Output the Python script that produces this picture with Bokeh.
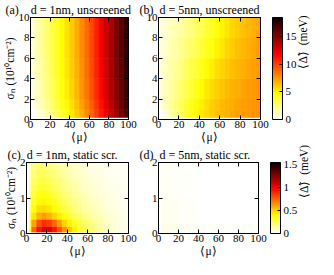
import numpy as np
from math import pi
from bokeh.plotting import figure
from bokeh.models import (Range1d, LinearAxis, FixedTicker, ColorBar,
                          LinearColorMapper, ColumnDataSource)
from bokeh.layouts import column, row
from bokeh.transform import linear_cmap
from bokeh.embed import file_html
from bokeh.resources import INLINE

# ---------------- data ----------------
MU_TICKS = [0, 20, 40, 60, 80, 100]
SIGMA_TICKS_UNSCR = [0, 2, 4, 6, 8, 10]
SIGMA_TICKS_SCR = [0, 1, 2]
CB_TICKS_UNSCR = [0, 5, 10, 15]
CB_TICKS_SCR = [0, 0.5, 1, 1.5]
CB_LABELS_SCR = {0: "0", 0.5: "0.5", 1: "1", 1.5: "1.5"}
VMAX_UNSCR = 18.5
VMAX_SCR = 1.55

MU_EDGES_UNSCR = [0, 5, 10, 15, 20, 25, 30, 35, 40, 45, 50,
                  55, 60, 65, 70, 75, 80, 85, 90, 95, 100]
SIGMA_EDGES_UNSCR = [0, 0.2, 1, 2, 4, 6, 8, 10]

# rows from bottom (sigma small) to top
GAP_A = [
    [0, 0, 0, 0, 0, 0, 0, 0, 0, 0, 0, 0, 0, 0, 0, 0, 0, 0, 0, 0],
    [0.1, 0.4, 1.0, 1.7, 2.4, 3.1, 3.8, 4.5, 5.3, 6.1, 7.0, 7.9, 8.9, 10.0, 11.1, 12.2, 13.3, 14.4, 15.5, 16.5],
    [0.4, 0.9, 1.5, 2.1, 2.8, 3.5, 4.2, 4.9, 5.6, 6.4, 7.3, 8.2, 9.2, 10.3, 11.4, 12.5, 13.6, 14.7, 15.8, 16.8],
    [0.6, 1.2, 1.8, 2.4, 3.1, 3.8, 4.5, 5.2, 5.9, 6.7, 7.6, 8.5, 9.5, 10.6, 11.7, 12.8, 13.9, 15.0, 16.0, 17.0],
    [0.8, 1.4, 2.0, 2.6, 3.3, 4.0, 4.7, 5.4, 6.1, 6.9, 7.8, 8.7, 9.7, 10.8, 11.9, 13.0, 14.1, 15.2, 16.2, 17.2],
    [0.9, 1.5, 2.1, 2.7, 3.4, 4.1, 4.8, 5.5, 6.2, 7.0, 7.9, 8.8, 9.8, 10.9, 12.0, 13.1, 14.2, 15.3, 16.3, 17.3],
    [0.9, 1.5, 2.1, 2.7, 3.4, 4.1, 4.8, 5.5, 6.2, 7.0, 7.9, 8.8, 9.8, 10.9, 12.0, 13.1, 14.2, 15.3, 16.3, 17.4],
]

GAP_B = [
    [0, 0, 0, 0, 0, 0, 0, 0, 0, 0, 0, 0, 0, 0, 0, 0, 0, 0, 0, 0],
    [0.2, 0.7, 1.5, 2.3, 3.0, 3.7, 4.3, 4.9, 5.3, 5.7, 6.1, 6.4, 6.7, 6.9, 7.1, 7.3, 7.4, 7.5, 7.6, 7.7],
    [0.6, 1.2, 1.9, 2.5, 3.1, 3.7, 4.3, 4.8, 5.2, 5.6, 6.0, 6.3, 6.6, 6.8, 7.0, 7.2, 7.4, 7.5, 7.6, 7.7],
    [0.8, 1.3, 1.8, 2.3, 2.8, 3.3, 3.8, 4.3, 4.8, 5.3, 5.7, 6.0, 6.3, 6.6, 6.8, 7.0, 7.2, 7.4, 7.5, 7.6],
    [0.8, 1.2, 1.6, 2.0, 2.4, 2.9, 3.4, 3.8, 4.3, 4.8, 5.2, 5.6, 5.9, 6.2, 6.5, 6.7, 6.9, 7.1, 7.3, 7.4],
    [0.7, 1.0, 1.4, 1.7, 2.1, 2.5, 2.9, 3.3, 3.7, 4.2, 4.6, 5.0, 5.4, 5.8, 6.1, 6.4, 6.7, 6.9, 7.1, 7.3],
    [0.6, 0.9, 1.2, 1.5, 1.8, 2.1, 2.5, 2.9, 3.3, 3.7, 4.1, 4.6, 5.0, 5.4, 5.8, 6.1, 6.4, 6.7, 6.9, 7.1],
]

MU_EDGES_C = [0, 3, 5, 10, 15, 20, 25, 30, 35, 40, 45, 50,
              55, 60, 65, 70, 75, 80, 85, 90, 95, 100]
SIGMA_EDGES_C = [0, 0.04, 0.2, 0.4, 0.6, 0.8, 1.0, 1.2, 1.4, 1.6, 1.8, 2.0]
GAP_C = [
    [0, 0, 0, 0, 0, 0, 0, 0, 0, 0, 0, 0, 0, 0, 0, 0, 0, 0, 0, 0, 0],
    [0, 0.35, 0.75, 0.95, 1.05, 1.05, 0.95, 0.8, 0.65, 0.52, 0.42, 0.34, 0.28, 0.23, 0.19, 0.15, 0.12, 0.09, 0.07, 0.05, 0.04],
    [0, 0.3, 0.6, 0.8, 0.88, 0.85, 0.75, 0.62, 0.5, 0.42, 0.35, 0.29, 0.24, 0.2, 0.16, 0.13, 0.1, 0.08, 0.06, 0.05, 0.04],
    [0, 0.25, 0.45, 0.58, 0.62, 0.58, 0.5, 0.43, 0.37, 0.32, 0.27, 0.23, 0.19, 0.16, 0.13, 0.11, 0.09, 0.07, 0.05, 0.04, 0.03],
    [0, 0.22, 0.38, 0.47, 0.48, 0.45, 0.4, 0.35, 0.3, 0.26, 0.22, 0.18, 0.15, 0.13, 0.11, 0.09, 0.07, 0.06, 0.05, 0.04, 0.03],
    [0, 0.2, 0.33, 0.4, 0.41, 0.39, 0.35, 0.3, 0.26, 0.22, 0.19, 0.16, 0.13, 0.11, 0.09, 0.08, 0.06, 0.05, 0.04, 0.03, 0.03],
    [0, 0.18, 0.3, 0.36, 0.37, 0.34, 0.3, 0.26, 0.22, 0.19, 0.16, 0.13, 0.11, 0.09, 0.08, 0.06, 0.05, 0.04, 0.04, 0.03, 0.02],
    [0, 0.16, 0.27, 0.32, 0.33, 0.3, 0.26, 0.22, 0.19, 0.16, 0.14, 0.11, 0.09, 0.08, 0.07, 0.05, 0.04, 0.04, 0.03, 0.03, 0.02],
    [0, 0.15, 0.24, 0.29, 0.29, 0.26, 0.23, 0.2, 0.17, 0.14, 0.12, 0.1, 0.08, 0.07, 0.06, 0.05, 0.04, 0.03, 0.03, 0.02, 0.02],
    [0, 0.13, 0.21, 0.26, 0.26, 0.23, 0.2, 0.17, 0.15, 0.12, 0.1, 0.09, 0.07, 0.06, 0.05, 0.04, 0.03, 0.03, 0.02, 0.02, 0.02],
    [0, 0.12, 0.19, 0.23, 0.23, 0.21, 0.18, 0.15, 0.13, 0.11, 0.09, 0.08, 0.06, 0.05, 0.04, 0.04, 0.03, 0.03, 0.02, 0.02, 0.01],
]

MU_EDGES_D = [0, 3, 10, 20, 40, 100]
SIGMA_EDGES_D = [0, 0.04, 0.3, 1, 2]
GAP_D = [
    [0, 0, 0, 0, 0],
    [0, 0.05, 0.04, 0.02, 0.01],
    [0, 0.03, 0.025, 0.015, 0.005],
    [0, 0.02, 0.015, 0.01, 0.003],
]

PANEL_TITLES = [
    "(a)\u2002\u2002d = 1nm, unscreened",
    "(b)\u2002d = 5nm, unscreened",
    "(c)\u2002d = 1nm, static scr.",
    "(d)\u2002d = 5nm, static scr.",
]
CBAR_LABEL = "\u27e8\u0394\u0303\u27e9\u2002(meV)"
X_LABEL = "\u27e8\u03bc\u27e9"
Y_LABEL = "\u03c3\u2099 (10\u00b9\u2070cm\u207b\u00b2)"

# ---------------- styling ----------------
FONT = "Liberation Serif"
TICK_FS = "11px"
LAB_FS = "11.5px"


def hot_r(n=256):
    pal = []
    for i in range(n):
        v = 1 - i / (n - 1)
        r = min(1.0, 0.0416 + v / 0.365 * (1 - 0.0416)) if v > 0 else 0.0
        g = min(1.0, max(0.0, (v - 0.365) / 0.381))
        b = min(1.0, max(0.0, (v - 0.746) / 0.254))
        pal.append("#%02x%02x%02x" % (round(r * 255), round(g * 255), round(b * 255)))
    return pal


PAL = hot_r()


def style_axis(ax, ticks, overrides=None):
    ax.ticker = FixedTicker(ticks=ticks)
    ax.major_tick_in = 4
    ax.major_tick_out = 0
    ax.minor_tick_line_color = None
    ax.axis_line_color = "black"
    ax.major_tick_line_color = "black"
    ax.major_label_text_font = FONT
    ax.major_label_text_font_size = TICK_FS
    ax.major_label_text_color = "black"
    ax.major_label_standoff = 1
    ax.axis_label_text_font = FONT
    ax.axis_label_text_font_size = LAB_FS
    ax.axis_label_text_font_style = "normal"
    ax.axis_label_text_color = "black"
    ax.axis_label_standoff = 0
    if overrides is not None:
        ax.major_label_overrides = overrides


def panel(xe, ye, vals, vmax, yticks, w, h, bl, br, bt, bb, ylabel, title, toff, cbar_gap):
    p = figure(width=w, height=h, output_backend="svg", toolbar_location=None,
               x_range=Range1d(0, 100), y_range=Range1d(yticks[0], yticks[-1]),
               min_border_left=bl, min_border_right=br, min_border_top=bt,
               min_border_bottom=bb)
    p.grid.visible = False
    p.outline_line_color = "black"
    p.background_fill_color = "white"
    p.border_fill_color = "white"

    xe = np.asarray(xe, float)
    ye = np.asarray(ye, float)
    v = np.asarray(vals, float)
    L, B = np.meshgrid(xe[:-1], ye[:-1])
    R, T = np.meshgrid(xe[1:], ye[1:])
    src = ColumnDataSource(dict(left=L.ravel(), right=R.ravel(), bottom=B.ravel(),
                                top=T.ravel(), val=v.ravel()))
    cmap = linear_cmap("val", PAL, 0, vmax)
    p.quad(left="left", right="right", bottom="bottom", top="top", source=src,
           fill_color=cmap, line_color=cmap, line_width=0.6)

    style_axis(p.xaxis[0], MU_TICKS)
    p.xaxis[0].axis_label = X_LABEL
    style_axis(p.yaxis[0], yticks)
    if ylabel:
        p.yaxis[0].axis_label = Y_LABEL

    top = LinearAxis()
    style_axis(top, MU_TICKS, {t: "" for t in MU_TICKS})
    top.major_label_standoff = 0
    p.add_layout(top, "above")
    right = LinearAxis()
    if cbar_gap:
        # blank (en-space) labels reserve a gap between the frame and the colour bar
        style_axis(right, yticks, {t: "\u2002" for t in yticks})
        right.major_label_standoff = 3
    else:
        style_axis(right, yticks, {t: "" for t in yticks})
        right.major_label_standoff = 0
    p.add_layout(right, "right")

    p.title.text = title
    p.title.align = "left"
    p.title.offset = toff
    p.title.standoff = 1
    p.title.text_font = FONT
    p.title.text_font_size = "12px"
    p.title.text_font_style = "normal"
    p.title.text_color = "black"
    return p


def add_cbar(p, vmax, ticks, overrides):
    mapper = LinearColorMapper(palette=PAL, low=0, high=vmax)
    cb = ColorBar(color_mapper=mapper, ticker=FixedTicker(ticks=ticks),
                  width=10, margin=0, padding=0, bar_line_color="black",
                  major_tick_line_color="black", major_tick_in=3, major_tick_out=0,
                  minor_tick_line_color=None, label_standoff=3,
                  major_label_text_font=FONT, major_label_text_font_size=TICK_FS,
                  major_label_text_color="black",
                  background_fill_alpha=0, border_line_color=None)
    if overrides:
        cb.major_label_overrides = overrides
    p.add_layout(cb, "right")
    lab = LinearAxis(ticker=FixedTicker(ticks=[]), axis_line_color=None,
                     major_tick_line_color=None, minor_tick_line_color=None,
                     axis_label=CBAR_LABEL, axis_label_standoff=3,
                     axis_label_text_font=FONT, axis_label_text_font_size=LAB_FS,
                     axis_label_text_font_style="normal", axis_label_text_color="black")
    lab.axis_label_orientation = pi / 2
    p.add_layout(lab, "right")


FW = 102
H1, H2 = 145, 114
pa = panel(MU_EDGES_UNSCR, SIGMA_EDGES_UNSCR, GAP_A, VMAX_UNSCR, SIGMA_TICKS_UNSCR,
           26 + FW + 9, H1, 26, 9, 14, 26, True, PANEL_TITLES[0], -25, False)
pb = panel(MU_EDGES_UNSCR, SIGMA_EDGES_UNSCR, GAP_B, VMAX_UNSCR, SIGMA_TICKS_UNSCR,
           21 + FW + 58, H1, 21, 58, 14, 26, False, PANEL_TITLES[1], -19, True)
add_cbar(pb, VMAX_UNSCR, CB_TICKS_UNSCR, None)
pc = panel(MU_EDGES_C, SIGMA_EDGES_C, GAP_C, VMAX_SCR, SIGMA_TICKS_SCR,
           26 + FW + 9, H2, 26, 9, 14, 26, True, PANEL_TITLES[2], -19, False)
pd = panel(MU_EDGES_D, SIGMA_EDGES_D, GAP_D, VMAX_SCR, SIGMA_TICKS_SCR,
           21 + FW + 58, H2, 21, 58, 14, 26, False, PANEL_TITLES[3], -19, True)
add_cbar(pd, VMAX_SCR, CB_TICKS_SCR, CB_LABELS_SCR)

layout = column(row(pa, pb, spacing=0), row(pc, pd, spacing=0), spacing=0)
open("out.html", "w").write(file_html(layout, INLINE))
